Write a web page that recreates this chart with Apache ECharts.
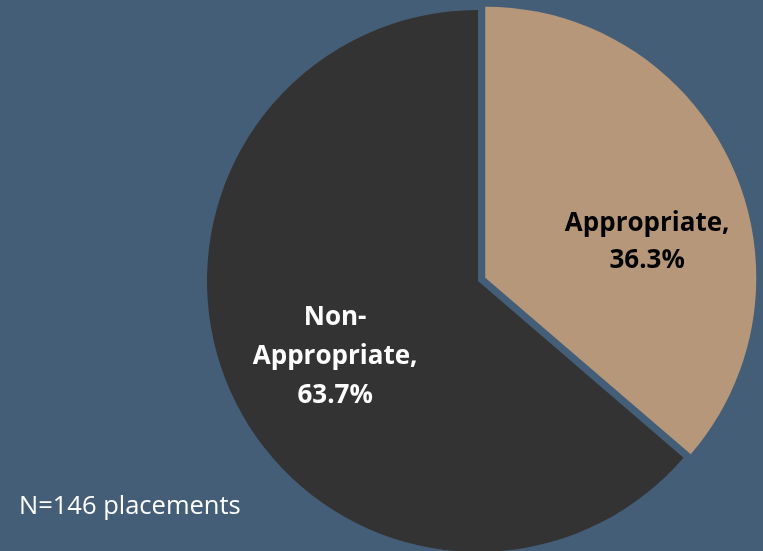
<!DOCTYPE html>
<html>
<head>
<meta charset="utf-8">
<script src="https://cdn.jsdelivr.net/npm/echarts@6/dist/echarts.min.js"></script>
<style>
html,body{margin:0;padding:0;background:#445E78;}
#c{width:763px;height:551px;}
</style>
</head>
<body>
<div id="c"></div>
<script>
var categories = ['Appropriate', 'Non-\nAppropriate'];
var values = [36.3, 63.7];
var colors = ['#B69779', '#333333'];
var labelColors = ['#000000', '#FFFFFF'];
var note = 'N=146 placements';

var chart = echarts.init(document.getElementById('c'));
var lineHeights = [37, 39];
var data = categories.map(function (c, i) {
  return {
    name: c,
    value: values[i],
    selected: i === 0,
    itemStyle: { color: colors[i] },
    label: { color: labelColors[i], lineHeight: lineHeights[i] }
  };
});
var labelOffsets = [[36, 22], [-17, 18]];
chart.setOption({
  backgroundColor: '#445E78',
  animation: false,
  series: [{
    type: 'pie',
    center: [478, 281],
    radius: 271,
    startAngle: 90,
    clockwise: true,
    selectedMode: 'single',
    selectedOffset: 8,
    data: data,
    itemStyle: { borderWidth: 0 },
    label: {
      show: true,
      position: 'inner',
      fontFamily: 'Open Sans',
      fontWeight: 'bold',
      fontSize: 26,
      align: 'center',
      formatter: function (p) { return p.name + ',\n' + p.value.toFixed(1) + '%'; }
    },
    labelLine: { show: false },
    emphasis: { disabled: true },
    labelLayout: function (p) {
      var o = labelOffsets[p.dataIndex];
      return { dx: o[0], dy: o[1] };
    }
  }],
  graphic: [{
    type: 'text',
    left: 19,
    top: 494,
    style: { text: note, fill: '#FFFFFF', font: '25.5px "Open Sans"' }
  }]
});
</script>
</body>
</html>
